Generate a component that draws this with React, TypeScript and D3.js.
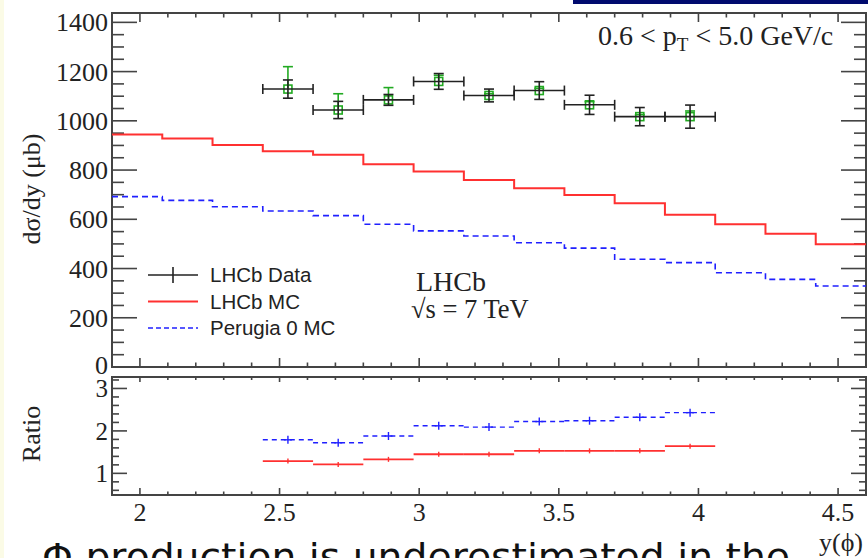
import * as d3 from 'd3'

// bin edges in y(phi)
const binEdges = [1.90, 2.08, 2.26, 2.44, 2.62, 2.80, 2.98, 3.16, 3.34, 3.52, 3.70, 3.88, 4.06, 4.24, 4.42, 4.60];
const lhcbMC = [944, 928, 902, 876, 862, 824, 794, 760, 726, 699, 665, 618, 580, 541, 499];
const perugia0 = [692, 677, 651, 634, 615, 580, 553, 532, 505, 483, 438, 424, 383, 356, 329];

// data sits in bins 3..11
const dataFirstBin = 3;
const dataVal = [1129, 1044, 1085, 1160, 1103, 1123, 1065, 1017, 1017];
const dataErr = [37, 35, 22, 32, 26, 36, 39, 37, 47];
const greenHi = [1220, 1110, 1135, 1185, 1110, 1132, 1078, 1025, 1040];

const ratioMC = [1.29, 1.21, 1.33, 1.45, 1.45, 1.53, 1.53, 1.53, 1.64];
const ratioPerugia = [1.79, 1.72, 1.88, 2.12, 2.09, 2.22, 2.24, 2.32, 2.43];

const xTickLabels = ['2', '2.5', '3', '3.5', '4', '4.5'];
const yTickLabels = ['0', '200', '400', '600', '800', '1000', '1200', '1400'];
const ratioTickLabels = ['1', '2', '3'];

const W = 868, H = 558;
const frameL = 112, frameR = 866;
const topT = 13, topB = 367;
const lowT = 377, lowB = 495;

const serif = '"Liberation Serif", "DejaVu Serif", serif';
const sans = '"Liberation Sans", Arial, sans-serif';
const axisCol = '#444';
const red = '#ff3030';
const blue = '#2020ff';
const green = '#22aa22';
const black = '#222';

export default function App() {
    const x = d3.scaleLinear().domain([1.9, 4.6]).range([frameL, frameR]);
    const y = d3.scaleLinear().domain([0, 1438]).range([topB, topT]);
    const yr = d3.scaleLinear().domain([0.49, 3.27]).range([lowB, lowT]);

    const stepPath = (vals) => {
        const pts = vals.map((v, i) => [x(binEdges[i]), y(v)]);
        pts.push([x(binEdges[binEdges.length - 1]), y(vals[vals.length - 1])]);
        return d3.line().curve(d3.curveStepAfter)(pts);
    };

    const xMinor = d3.range(19, 47).map(i => i / 10);
    const xMajor = xTickLabels.map(Number);
    const yMinor = d3.range(0, 1440, 50);
    const yMajor = yTickLabels.map(Number);
    const rMinor = d3.range(3, 17).map(i => i / 5);
    const rMajor = ratioTickLabels.map(Number);

    const xTicks = (t, b, majT, minT, majB, minB) => (
        <g stroke={axisCol} strokeWidth={1.6}>
            {xMinor.map((v, i) => {
                const maj = xMajor.some(m => Math.abs(m - v) < 1e-6);
                const lt = maj ? majT : minT;
                const lb = maj ? majB : minB;
                return (
                    <g key={i}>
                        <line x1={x(v)} x2={x(v)} y1={t} y2={t + lt} />
                        <line x1={x(v)} x2={x(v)} y1={b} y2={b - lb} />
                    </g>
                );
            })}
        </g>
    );

    const yTicks = (scale, minor, major, maj, min) => (
        <g stroke={axisCol} strokeWidth={1.6}>
            {minor.map((v, i) => {
                const isMaj = major.some(m => Math.abs(m - v) < 1e-6);
                const l = isMaj ? maj : min;
                return (
                    <g key={i}>
                        <line x1={frameL} x2={frameL + l} y1={scale(v)} y2={scale(v)} />
                        <line x1={frameR} x2={frameR - l} y1={scale(v)} y2={scale(v)} />
                    </g>
                );
            })}
        </g>
    );

    const dataIdx = dataVal.map((_, i) => i + dataFirstBin);

    return (
        <div style={{ position: 'absolute', left: 0, top: 0 }}>
            <svg width={W} height={H} style={{ display: 'block', background: '#fff' }}>
                <rect x={0} y={0} width={4} height={H} fill='#fbfbe6' />
                <rect x={573} y={0} width={W - 573} height={4} fill='#000a6e' />

                {/* upper panel */}
                <rect x={frameL} y={topT} width={frameR - frameL} height={topB - topT} fill='none' stroke={axisCol} strokeWidth={2} />
                {xTicks(topT, topB, 9, 4.5, 9, 4.5)}
                {yTicks(y, yMinor, yMajor, 25, 12)}
                {yTickLabels.map((t, i) => (
                    <text key={i} x={108} y={y(yMajor[i])} dy={i === 0 ? '0.25em' : '0.35em'} textAnchor='end' fontFamily={serif} fontSize={26} fill='#222'>{t}</text>
                ))}

                <path d={stepPath(perugia0)} fill='none' stroke={blue} strokeWidth={1.6} strokeDasharray='6,4' />
                <path d={stepPath(lhcbMC)} fill='none' stroke={red} strokeWidth={2} />

                {/* green points */}
                <g stroke={green} strokeWidth={1.6} fill='none'>
                    {dataIdx.map((b, i) => {
                        const cx = (x(binEdges[b]) + x(binEdges[b + 1])) / 2;
                        return (
                            <g key={i}>
                                <line x1={cx} x2={cx} y1={y(dataVal[i])} y2={y(greenHi[i])} />
                                <line x1={cx - 5} x2={cx + 5} y1={y(greenHi[i])} y2={y(greenHi[i])} />
                                <rect x={cx - 4} y={y(dataVal[i]) - 4} width={8} height={8} />
                            </g>
                        );
                    })}
                </g>
                {/* data points */}
                <g stroke={black} strokeWidth={1.6}>
                    {dataIdx.map((b, i) => {
                        const x0 = x(binEdges[b]), x1 = x(binEdges[b + 1]);
                        const cx = (x0 + x1) / 2;
                        const cy = y(dataVal[i]);
                        const yh = y(dataVal[i] + dataErr[i]), yl = y(dataVal[i] - dataErr[i]);
                        return (
                            <g key={i}>
                                <line x1={x0} x2={x1} y1={cy} y2={cy} />
                                <line x1={x0} x2={x0} y1={cy - 5} y2={cy + 5} />
                                <line x1={x1} x2={x1} y1={cy - 5} y2={cy + 5} />
                                <line x1={cx} x2={cx} y1={yh} y2={yl} />
                                <line x1={cx - 5} x2={cx + 5} y1={yh} y2={yh} />
                                <line x1={cx - 5} x2={cx + 5} y1={yl} y2={yl} />
                            </g>
                        );
                    })}
                </g>

                {/* legend */}
                <g>
                    <line x1={148} x2={198} y1={275} y2={275} stroke={black} strokeWidth={1.6} />
                    <line x1={173} x2={173} y1={267} y2={283} stroke={black} strokeWidth={1.6} />
                    <text x={210} y={275} dy='0.35em' fontFamily={sans} fontSize={20.5} fill='#222'>LHCb Data</text>
                    <line x1={148} x2={198} y1={301.5} y2={301.5} stroke={red} strokeWidth={2} />
                    <text x={210} y={301.5} dy='0.35em' fontFamily={sans} fontSize={20.5} fill='#222'>LHCb MC</text>
                    <line x1={148} x2={198} y1={328} y2={328} stroke={blue} strokeWidth={1.4} strokeDasharray='5,3' />
                    <text x={210} y={328} dy='0.35em' fontFamily={sans} fontSize={20.5} fill='#222'>Perugia 0 MC</text>
                </g>

                <text x={416} y={291} fontFamily={serif} fontSize={28} fill='#222'>LHCb</text>
                <text x={411} y={318} fontFamily={serif} fontSize={26.5} fill='#222'>√s = 7 TeV</text>

                <text x={598} y={45} fontFamily={serif} fontSize={28} fill='#222'>
                    0.6 &lt; p<tspan fontSize={19} dy={6}>T</tspan><tspan dy={-6}> &lt; 5.0 GeV/c</tspan>
                </text>

                <text transform={`translate(40,189) rotate(-90)`} textAnchor='middle' fontFamily={serif} fontSize={26} fill='#222'>dσ/dy (μb)</text>

                {/* lower panel */}
                <rect x={frameL} y={lowT} width={frameR - frameL} height={lowB - lowT} fill='none' stroke={axisCol} strokeWidth={2} />
                {xTicks(lowT, lowB, 5, 3, 7, 3.5)}
                {yTicks(yr, rMinor, rMajor, 15, 7)}
                {ratioTickLabels.map((t, i) => (
                    <text key={i} x={108} y={yr(rMajor[i])} dy='0.35em' textAnchor='end' fontFamily={serif} fontSize={25} fill='#222'>{t}</text>
                ))}
                <text transform={`translate(40,434) rotate(-90)`} textAnchor='middle' fontFamily={serif} fontSize={26} fill='#222'>Ratio</text>

                {dataIdx.map((b, i) => {
                    const x0 = x(binEdges[b]), x1 = x(binEdges[b + 1]);
                    const cx = (x0 + x1) / 2;
                    return (
                        <g key={i}>
                            <line x1={x0} x2={x1} y1={yr(ratioPerugia[i])} y2={yr(ratioPerugia[i])} stroke={blue} strokeWidth={1.4} strokeDasharray='5,4' />
                            <line x1={cx - 4} x2={cx + 4} y1={yr(ratioPerugia[i])} y2={yr(ratioPerugia[i])} stroke={blue} strokeWidth={1.4} />
                            <line x1={cx} x2={cx} y1={yr(ratioPerugia[i]) - 4} y2={yr(ratioPerugia[i]) + 4} stroke={blue} strokeWidth={1.4} />
                            <line x1={x0} x2={x1} y1={yr(ratioMC[i])} y2={yr(ratioMC[i])} stroke={red} strokeWidth={1.8} />
                            <line x1={cx} x2={cx} y1={yr(ratioMC[i]) - 2.5} y2={yr(ratioMC[i]) + 2.5} stroke={red} strokeWidth={1.4} />
                        </g>
                    );
                })}

                {xTickLabels.map((t, i) => (
                    <text key={i} x={x(xMajor[i])} y={521} textAnchor='middle' fontFamily={serif} fontSize={26} fill='#222'>{t}</text>
                ))}
                <text x={863} y={551} textAnchor='end' fontFamily={serif} fontSize={26} fill='#222'>y(ϕ)</text>

                <text x={42} y={570} fontFamily='"DejaVu Sans", sans-serif' fontSize={38} textLength={748} lengthAdjust='spacingAndGlyphs' fill='#111'>Φ production is underestimated in the</text>
            </svg>
        </div>
    )
}
